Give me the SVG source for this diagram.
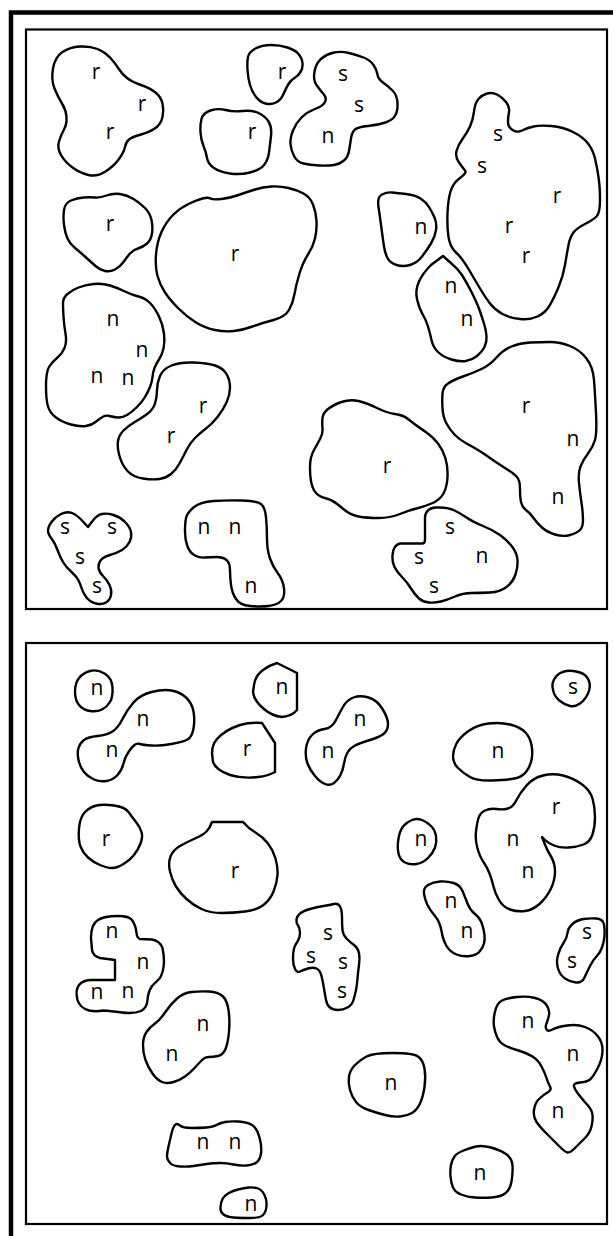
<svg xmlns="http://www.w3.org/2000/svg" width="613" height="1236" viewBox="0 0 613 1236">
<style>
.frame{fill:none;stroke:#000;stroke-width:4.5}
.panel{fill:none;stroke:#000;stroke-width:2.2}
.b{fill:#fff;stroke:#000;stroke-width:2.4;stroke-linejoin:round}
.t{font-family:"Open Sans","Noto Sans",sans-serif;font-size:21px;text-anchor:middle;fill:#000}
</style>
<rect width="613" height="1236" fill="#fff"/>
<rect class="frame" x="11" y="12.5" width="700" height="1300"/>
<rect class="panel" x="26" y="29.5" width="581" height="579.5"/>
<rect class="panel" x="26" y="643" width="581" height="581"/>
<g id="panel1">
<g id="blobA"><path class="b" d="M54.5,88.5 Q51,80 53,68.5 Q55,57 62.5,52 Q70,47 80,46.5 Q90,46 97.5,49 Q105,52 110,57.5 Q115,63 118.5,68.5 Q122,74 127,78 Q132,82 141,85 Q150,88 155.5,92.5 Q161,97 162.5,103.5 Q164,110 162.5,117 Q161,124 155.5,128 Q150,132 141,134.5 Q132,137 129,139.5 Q126,142 125,147 Q124,152 119,159 Q114,166 105.5,171.5 Q97,177 88.5,175 Q80,173 72.5,167.5 Q65,162 61,155 Q57,148 59,141.5 Q61,135 64,129.5 Q67,124 66.5,117 Q66,110 62,103.5 Q58,97 54.5,88.5 Z"/><text class="t" x="96" y="79">r</text><text class="t" x="142" y="111">r</text><text class="t" x="110" y="139">r</text></g>
<g id="blobB"><path class="b" d="M248,57 Q249,52 255.5,48.5 Q262,45 271,45 Q280,45 287.5,47.5 Q295,50 298.5,54 Q302,58 302.5,63 Q303,68 300.5,72 Q298,76 294.5,78 Q291,80 288.5,84 Q286,88 283.5,94 Q281,100 276,102.5 Q271,105 265.5,103.5 Q260,102 256,97 Q252,92 250,85 Q248,78 247.5,70 Q247,62 248,57 Z"/><text class="t" x="282" y="79">r</text></g>
<g id="blobC"><path class="b" d="M201.5,119 Q203,113 210.5,110.5 Q218,108 225.5,110 Q233,112 242.5,111 Q252,110 258.5,113 Q265,116 268.5,121.5 Q272,127 271,136 Q270,145 269,152.5 Q268,160 264,165 Q260,170 250,172.5 Q240,175 230,173.5 Q220,172 214,168 Q208,164 207,158 Q206,152 203.5,146 Q201,140 200.5,132.5 Q200,125 201.5,119 Z"/><text class="t" x="252" y="139">r</text></g>
<g id="blobD"><path class="b" d="M316.5,85 Q313,80 314.5,71.5 Q316,63 321.5,58.5 Q327,54 334,52.5 Q341,51 349,53 Q357,55 363.5,57.5 Q370,60 373.5,65 Q377,70 377.5,74.5 Q378,79 383,82.5 Q388,86 392.5,90.5 Q397,95 397.5,102.5 Q398,110 395.5,115 Q393,120 385.5,122.5 Q378,125 368,126 Q358,127 355,129.5 Q352,132 351,138.5 Q350,145 349,151 Q348,157 344,160.5 Q340,164 334,165 Q328,166 319,165.5 Q310,165 303.5,163.5 Q297,162 294,156 Q291,150 290.5,144 Q290,138 293,130.5 Q296,123 301.5,117.5 Q307,112 315,109 Q323,106 325,102 Q327,98 323.5,94 Q320,90 316.5,85 Z"/><text class="t" x="343" y="81">s</text><text class="t" x="359" y="112">s</text><text class="t" x="328" y="143">n</text></g>
<g id="blobE"><path class="b" d="M474,111.5 Q475,103 478.5,99 Q482,95 487,93.5 Q492,92 497,94.5 Q502,97 506,102 Q510,107 509,112 Q508,117 508,122 Q508,127 512.5,130 Q517,133 522,130.5 Q527,128 533.5,126.5 Q540,125 551.5,126 Q563,127 573,132 Q583,137 588,143.5 Q593,150 595,158.5 Q597,167 598.5,177 Q600,187 600,200 Q600,213 596.5,216.5 Q593,220 585,224 Q577,228 573.5,232.5 Q570,237 568.5,245 Q567,253 565,265 Q563,277 558,288.5 Q553,300 549,306.5 Q545,313 537.5,316.5 Q530,320 520,319 Q510,318 502.5,314 Q495,310 490,303.5 Q485,297 480,288.5 Q475,280 468.5,269 Q462,258 456,252.5 Q450,247 448.5,237 Q447,227 447.5,213.5 Q448,200 450.5,191.5 Q453,183 460,178 Q467,173 465,170.5 Q463,168 459,162.5 Q455,157 456.5,151 Q458,145 462.5,139 Q467,133 470,126.5 Q473,120 474,111.5 Z"/><text class="t" x="498" y="141">s</text><text class="t" x="482" y="173">s</text><text class="t" x="557" y="203">r</text><text class="t" x="509" y="233">r</text><text class="t" x="526" y="263">r</text></g>
<g id="blobF"><path class="b" d="M378.5,207 Q377,197 382,194.5 Q387,192 392,192.5 Q397,193 406,194 Q415,195 420.5,198.5 Q426,202 429,207 Q432,212 434.5,217.5 Q437,223 436,230 Q435,237 431,243.5 Q427,250 422,256.5 Q417,263 410,265 Q403,267 396.5,265 Q390,263 387.5,258 Q385,253 384,246.5 Q383,240 381.5,228.5 Q380,217 378.5,207 Z"/><text class="t" x="421" y="234">n</text></g>
<g id="blobG"><path class="b" d="M417,299 Q415,290 419,281.5 Q423,273 431,265 L443,256 L452,264 Q457,268 462,275 Q467,283 472,293 Q477,303 479.5,310 Q482,317 484,323.5 Q486,330 486.5,336 Q487,342 484.5,347 Q482,352 477,356 Q472,360 466,361 Q460,362 451.5,359.5 Q443,357 438,352 Q433,347 431.5,340 Q430,333 428,326.5 Q426,320 422.5,314 Q419,308 417,299 Z"/><text class="t" x="451" y="293">n</text><text class="t" x="467" y="326">n</text></g>
<g id="blobH"><path class="b" d="M157.5,276 Q155,267 156,254.5 Q157,242 161.5,232 Q166,222 173,215 Q180,208 188.5,204 Q197,200 202.5,198.5 Q208,197 210.5,198.5 Q213,200 221.5,199 Q230,198 238.5,195 Q247,192 255,189.5 Q263,187 271.5,186.5 Q280,186 288.5,188 Q297,190 303.5,193.5 Q310,197 313,204.5 Q316,212 316.5,221 Q317,230 315,238.5 Q313,247 308,254.5 Q303,262 299.5,273.5 Q296,285 294.5,294 Q293,303 289,310 Q285,317 273.5,320 Q262,323 252.5,326.5 Q243,330 234,331 Q225,332 215,330 Q205,328 196,322.5 Q187,317 178.5,308.5 Q170,300 165,292.5 Q160,285 157.5,276 Z"/><text class="t" x="235" y="261">r</text></g>
<g id="blobI"><path class="b" d="M64,210 Q65,203 71,200.5 Q77,198 83.5,197.5 Q90,197 95,197.5 Q100,198 106.5,195.5 Q113,193 120,194 Q127,195 133.5,199 Q140,203 145,208 Q150,213 151.5,220 Q153,227 152,233.5 Q151,240 147,243.5 Q143,247 138,248.5 Q133,250 130,253.5 Q127,257 123.5,262 Q120,267 115,269.5 Q110,272 105,271 Q100,270 95.5,266 Q91,262 85.5,257 Q80,252 75,248 Q70,244 67.5,238.5 Q65,233 64,225 Q63,217 64,210 Z"/><text class="t" x="110" y="231">r</text></g>
<g id="blobJ"><path class="b" d="M63,303 Q63,298 67.5,294 Q72,290 78.5,287.5 Q85,285 93.5,284 Q102,283 110,285.5 Q118,288 125,291.5 Q132,295 138.5,296.5 Q145,298 150,303 Q155,308 159,316.5 Q163,325 164,333.5 Q165,342 163.5,348.5 Q162,355 159,359.5 Q156,364 154.5,368 Q153,372 152.5,377 Q152,382 150,387 Q148,392 145,397 Q142,402 137,407 Q132,412 127,415 Q122,418 117.5,417.5 Q113,417 109.5,416 Q106,415 102.5,417 Q99,419 95.5,422 Q92,425 86,426 Q80,427 71,424.5 Q62,422 56,417.5 Q50,413 48,406.5 Q46,400 46,386 Q46,372 49,367 Q52,362 57,358 Q62,354 64.5,348 Q67,342 65.5,333.5 Q64,325 63.5,316.5 Q63,308 63,303 Z"/><text class="t" x="113" y="326">n</text><text class="t" x="142" y="357">n</text><text class="t" x="97" y="383">n</text><text class="t" x="128" y="385">n</text></g>
<g id="blobK"><path class="b" d="M157,390 Q157,383 160,376 Q163,369 171.5,365.5 Q180,362 193.5,362.5 Q207,363 215,365.5 Q223,368 226.5,374 Q230,380 230,387.5 Q230,395 226.5,402.5 Q223,410 217.5,417 Q212,424 206,428.5 Q200,433 195,438 Q190,443 186.5,450 Q183,457 179.5,463.5 Q176,470 171,474 Q166,478 159.5,479 Q153,480 143,478.5 Q133,477 127.5,471 Q122,465 119.5,456 Q117,447 118,441 Q119,435 123.5,430.5 Q128,426 134,422.5 Q140,419 146.5,414.5 Q153,410 155,403.5 Q157,397 157,390 Z"/><text class="t" x="203" y="413">r</text><text class="t" x="171" y="443">r</text></g>
<g id="blobS"><path class="b" d="M48,530.5 Q48,527 51.5,522 Q55,517 61,514 Q67,511 72,513 Q77,515 82.5,521 L88,527 L92.5,521 Q97,515 102,514 Q107,513 113.5,515 Q120,517 125,522 Q130,527 131,532 Q132,537 129.5,542 Q127,547 122,550 Q117,553 110,555 Q103,557 100.5,560.5 Q98,564 98.5,568 Q99,572 103,576 Q107,580 109.5,585 Q112,590 111,595 Q110,600 106,602.5 Q102,605 96,603.5 Q90,602 86.5,597.5 Q83,593 81.5,588 Q80,583 78,579.5 Q76,576 71,571.5 Q66,567 63,562 Q60,557 57.5,550 Q55,543 51.5,538.5 Q48,534 48,530.5 Z"/><text class="t" x="65" y="534">s</text><text class="t" x="112" y="534">s</text><text class="t" x="80" y="564">s</text><text class="t" x="97" y="593">s</text></g>
<g id="blobL"><path class="b" d="M186,518 Q187,513 193.5,507.5 Q200,502 213.5,501 Q227,500 242,500.5 Q257,501 261,504 Q265,507 266,517 Q267,527 267,538.5 Q267,550 270,558.5 Q273,567 278,573.5 Q283,580 284,588.5 Q285,597 281,601 Q277,605 268.5,606 Q260,607 250,606 Q240,605 236,599 Q232,593 231,585 Q230,577 230,570 Q230,563 226.5,560 Q223,557 216.5,557 Q210,557 205,557.5 Q200,558 195,555.5 Q190,553 187.5,546.5 Q185,540 185,531.5 Q185,523 186,518 Z"/><text class="t" x="204" y="534">n</text><text class="t" x="235" y="534">n</text><text class="t" x="251" y="593">n</text></g>
<g id="blobM"><path class="b" d="M322.5,418 Q323,413 328,409 Q333,405 341.5,402 Q350,399 358.5,401 Q367,403 377,408 Q387,413 395,414 Q403,415 408,419 Q413,423 416.5,425.5 Q420,428 426.5,432.5 Q433,437 438,443.5 Q443,450 445.5,458.5 Q448,467 447.5,477 Q447,487 443.5,493.5 Q440,500 431.5,503.5 Q423,507 416.5,508.5 Q410,510 400,514 Q390,518 378.5,518 Q367,518 358.5,516.5 Q350,515 341.5,507.5 Q333,500 326.5,498.5 Q320,497 316.5,493.5 Q313,490 311.5,483.5 Q310,477 310,467 Q310,457 314,450 Q318,443 320.5,438 Q323,433 322.5,428 Q322,423 322.5,418 Z"/><text class="t" x="387" y="473">r</text></g>
<g id="blobN"><path class="b" d="M442.5,393.5 Q443,387 448,383.5 Q453,380 463,376.5 Q473,373 481.5,369 Q490,365 496.5,357.5 Q503,350 511.5,346.5 Q520,343 530,342.5 Q540,342 550,342 Q560,342 570,346 Q580,350 586.5,358.5 Q593,367 594,380 Q595,393 596,413 Q597,433 595,440 Q593,447 588,453.5 Q583,460 580.5,466.5 Q578,473 579,483 Q580,493 581.5,503 Q583,513 583,520 Q583,527 580,530 Q577,533 570,535 Q563,537 555,534.5 Q547,532 542,527.5 Q537,523 533.5,518 Q530,513 526,510 Q522,507 521,502 Q520,497 520,488.5 Q520,480 516.5,476.5 Q513,473 505,468 Q497,463 490,458 Q483,453 478,450 Q473,447 466.5,443.5 Q460,440 455,435 Q450,430 446.5,423.5 Q443,417 442.5,408.5 Q442,400 442.5,393.5 Z"/><text class="t" x="526" y="413">r</text><text class="t" x="573" y="446">n</text><text class="t" x="558" y="504">n</text></g>
<g id="blobO"><path class="b" d="M425,535 L425,517 Q426,508 436,507.5 Q447,507 453.5,510 Q460,513 466.5,517.5 Q473,522 483,526 Q493,530 500,535 Q507,540 512,546.5 Q517,553 517.5,560 Q518,567 515.5,574.5 Q513,582 506.5,587 Q500,592 490,592.5 Q480,593 471.5,593 Q463,593 455,596.5 Q447,600 441,601.5 Q435,603 429,602.5 Q423,602 419,598.5 Q415,595 411,588.5 Q407,582 402,577 Q397,572 394.5,567 Q392,562 392.5,555.5 Q393,545 400,543.5 L422,543.5 Q425,543.5 425,540 Z"/><text class="t" x="450" y="534">s</text><text class="t" x="419" y="564">s</text><text class="t" x="482" y="563">n</text><text class="t" x="434" y="593">s</text></g>
</g>
<g id="panel2">
<g id="p1"><path class="b" d="M75,691.5 Q75,683 79,678 Q83,673 90,671 Q97,669 104.5,673.5 Q112,678 112.5,687.5 Q113,697 110,702 Q107,707 102,709.5 Q97,712 90,711 Q83,710 79,705 Q75,700 75,691.5 Z"/><text class="t" x="97" y="695">n</text></g>
<g id="p2"><path class="b" d="M78.5,748 Q80,743 84,740 Q88,737 97.5,736 Q107,735 112.5,731.5 Q118,728 122.5,719 Q127,710 133.5,702.5 Q140,695 151.5,692 Q163,689 171.5,690.5 Q180,692 186,697.5 Q192,703 193.5,711.5 Q195,720 193.5,728.5 Q192,737 187.5,739.5 Q183,742 171.5,744 Q160,746 151.5,745.5 Q143,745 140,744 Q137,743 134.5,745 Q132,747 128.5,752 Q125,757 123.5,763.5 Q122,770 117.5,775 Q113,780 106.5,781 Q100,782 94,779.5 Q88,777 84,772 Q80,767 78.5,760 Q77,753 78.5,748 Z"/><text class="t" x="143" y="726">n</text><text class="t" x="112" y="757">n</text></g>
<g id="p3"><path class="b" d="M212,753 Q212,745 217,739 Q225,730 240,725 Q250,722 262,723 L275,743 L275,772 Q268,776 258,777 Q243,779 230,775 Q216,770 213,762 Z"/><text class="t" x="247" y="756">r</text></g>
<g id="p4"><path class="b" d="M254,685 Q255,676 263,670 Q270,665 277,663 L297,673 L297,710 Q292,716 282,717 Q272,716 264,709 Q254,701 253,692 Z"/><text class="t" x="282" y="694">n</text></g>
<g id="p5"><path class="b" d="M306,748.5 Q307,740 312,735 Q317,730 324.5,729 Q332,728 336,720 Q340,712 343.5,706 Q347,700 353.5,697.5 Q360,695 368.5,697.5 Q377,700 382.5,709 Q388,718 388,724 Q388,730 384,733.5 Q380,737 370,740 Q360,743 355,745.5 Q350,748 347.5,752.5 Q345,757 344,763.5 Q343,770 340.5,775 Q338,780 334,783 Q330,786 325,784 Q320,782 315,776 Q310,770 307.5,763.5 Q305,757 306,748.5 Z"/><text class="t" x="360" y="726">n</text><text class="t" x="328" y="758">n</text></g>
<g id="p6"><path class="b" d="M552.5,683.5 Q553,680 556.5,676 Q560,672 566.5,671 Q573,670 580,672.5 Q587,675 589,681 Q591,687 588,693.5 Q585,700 580,703.5 Q575,707 570,706 Q565,705 560,701 Q555,697 553.5,692 Q552,687 552.5,683.5 Z"/><text class="t" x="573" y="694">s</text></g>
<g id="p7"><path class="b" d="M453,756.5 Q453,750 456.5,743.5 Q460,737 468.5,731 Q477,725 488.5,723.5 Q500,722 510,724.5 Q520,727 525,732 Q530,737 531.5,745 Q533,753 531.5,760 Q530,767 526,772 Q522,777 514.5,778.5 Q507,780 492,780.5 Q477,781 470,777 Q463,773 458,768 Q453,763 453,756.5 Z"/><text class="t" x="498" y="758">n</text></g>
<g id="p8"><path class="b" d="M398.5,838.5 Q400,830 403.5,826 Q407,822 412,820 Q417,818 422,820 Q427,822 431,826 Q435,830 436,836 Q437,842 435,847.5 Q433,853 428,858 Q423,863 416.5,864 Q410,865 405,862.5 Q400,860 398.5,853.5 Q397,847 398.5,838.5 Z"/><text class="t" x="421" y="846">n</text></g>
<g id="p9"><path class="b" d="M478.5,818 Q480,813 485,810.5 Q490,808 496.5,809 Q503,810 508,808.5 Q513,807 516.5,800 Q520,793 526.5,785.5 Q533,778 543,775.5 Q553,773 563,775.5 Q573,778 581.5,784 Q590,790 592.5,798.5 Q595,807 595,817 Q595,827 592.5,834.5 Q590,842 583.5,844.5 Q577,847 568.5,847.5 Q560,848 554,845.5 Q548,843 545,840 L542,837 L544.5,843.5 Q547,850 551,856.5 Q555,863 555,871.5 Q555,880 551,888.5 Q547,897 540,903.5 Q533,910 525,911 Q517,912 510,909.5 Q503,907 499,900 Q495,893 493.5,886.5 Q492,880 489.5,873.5 Q487,867 483.5,862 Q480,857 477.5,848.5 Q475,840 476,831.5 Q477,823 478.5,818 Z"/><text class="t" x="556" y="814">r</text><text class="t" x="513" y="846">n</text><text class="t" x="528" y="878">n</text></g>
<g id="p10"><path class="b" d="M79,828.5 Q80,817 85,812 Q90,807 96.5,805.5 Q103,804 114,805.5 Q125,807 128.5,812 Q132,817 136,822 Q140,827 141.5,832 Q143,837 140.5,843.5 Q138,850 134,855 Q130,860 123.5,864 Q117,868 112,868 Q107,868 100,865 Q93,862 88,857.5 Q83,853 80.5,846.5 Q78,840 79,828.5 Z"/><text class="t" x="106" y="846">r</text></g>
<g id="p11"><path class="b" d="M243,822 Q248,828 255.5,832.5 Q263,837 268,843.5 Q273,850 275.5,858.5 Q278,867 277.5,875 Q277,883 273.5,891.5 Q270,900 263.5,905 Q257,910 245,911.5 Q233,913 221.5,913 Q210,913 201.5,909 Q193,905 186.5,899 Q180,893 176,886.5 Q172,880 170,871.5 Q168,863 170.5,856.5 Q173,850 180,846 Q187,842 195,838.5 Q203,835 206.5,831.5 Q210,828 212,822 Z"/><text class="t" x="235" y="878">r</text></g>
<g id="p12"><path class="b" d="M91,938 Q91,924 98,920 Q104,916 118,916 Q129,916 132,920 Q136,926 136.5,933 Q137,938 140,939 L152,939.5 Q160,941 162.5,948 Q164,955 164,962 Q163.5,972 160,978 Q155,983 152,986 Q148,992 147.5,1000 Q147,1008 141,1011 Q134,1014 122,1012.5 Q110,1011 103,1010.5 Q96,1012 89,1010.5 Q80,1008 77.5,1000 Q75,990 79,985 Q83,980 92,980 L115,980 L115,960 L100,958 Q93,956 92,950 Z"/><text class="t" x="112" y="938">n</text><text class="t" x="143" y="969">n</text><text class="t" x="97" y="999">n</text><text class="t" x="128" y="998">n</text></g>
<g id="p13"><path class="b" d="M143,1045 Q143,1037 146.5,1032 Q150,1027 155,1023.5 Q160,1020 165,1012.5 Q170,1005 176.5,999 Q183,993 191.5,992 Q200,991 209,991.5 Q218,992 222.5,996 Q227,1000 228.5,1010 Q230,1020 229,1031.5 Q228,1043 225.5,1049 Q223,1055 218,1056 Q213,1057 209,1057 Q205,1057 202.5,1059.5 Q200,1062 195,1067.5 Q190,1073 185,1076.5 Q180,1080 173.5,1082 Q167,1084 162,1082 Q157,1080 152.5,1073.5 Q148,1067 145.5,1060 Q143,1053 143,1045 Z"/><text class="t" x="203" y="1031">n</text><text class="t" x="172" y="1061">n</text></g>
<g id="p14"><path class="b" d="M296.5,919.5 Q297,916 300,913.5 Q303,911 310,909 Q317,907 323.5,906 Q330,905 334,904 Q338,903 340,906.5 Q342,910 342,917.5 Q342,925 342.5,930 Q343,935 346.5,938.5 Q350,942 354,945 Q358,948 359,953 Q360,958 359,965 Q358,972 357.5,978.5 Q357,985 356,990 Q355,995 353.5,1000 Q352,1005 347.5,1007.5 Q343,1010 338,1010 Q333,1010 330,1007.5 Q327,1005 326,1000 Q325,995 324,988.5 Q323,982 321.5,976 Q320,970 316.5,968.5 Q313,967 308,968.5 Q303,970 300,971.5 Q297,973 295,969 Q293,965 293,958.5 Q293,952 294,948.5 Q295,945 297.5,941.5 Q300,938 300,933 Q300,928 298,925.5 Q296,923 296.5,919.5 Z"/><text class="t" x="328" y="940">s</text><text class="t" x="311" y="963">s</text><text class="t" x="343" y="969">s</text><text class="t" x="342" y="998">s</text></g>
<g id="p15"><path class="b" d="M424,894 Q423,888 428,885 Q433,882 440,881.5 Q447,881 453.5,883 Q460,885 462.5,891 Q465,897 467.5,903.5 Q470,910 475,914 Q480,918 482,924 Q484,930 484.5,935 Q485,940 484,943.5 Q483,947 480,951 Q477,955 470,956 Q463,957 456.5,954.5 Q450,952 446.5,946 Q443,940 441.5,931 Q440,922 435,916 Q430,910 427.5,905 Q425,900 424,894 Z"/><text class="t" x="451" y="908">n</text><text class="t" x="467" y="938">n</text></g>
<g id="p16"><path class="b" d="M567.5,933 Q568,928 572.5,924 Q577,920 583.5,919 Q590,918 596.5,918.5 Q603,919 604,924.5 Q605,930 604.5,936 Q604,942 602,947.5 Q600,953 596.5,956.5 Q593,960 590,966 Q587,972 584.5,977.5 Q582,983 576,982.5 Q570,982 565,978.5 Q560,975 558,968.5 Q556,962 558,955 Q560,948 563.5,943 Q567,938 567.5,933 Z"/><text class="t" x="587" y="939">s</text><text class="t" x="572" y="968">s</text></g>
<g id="p17"><path class="b" d="M495,1011.5 Q497,1003 502,1000.5 Q507,998 517,997 Q527,996 535,998 Q543,1000 546.5,1005 Q550,1010 549,1015 Q548,1020 546.5,1023.5 Q545,1027 546.5,1029.5 Q548,1032 552.5,1029.5 Q557,1027 567,1025.5 Q577,1024 585,1027 Q593,1030 598,1036.5 Q603,1043 602.5,1051.5 Q602,1060 597.5,1068.5 Q593,1077 590,1079.5 Q587,1082 580,1082.5 Q573,1083 574,1086.5 Q575,1090 579,1095 Q583,1100 587.5,1105 Q592,1110 592.5,1115 Q593,1120 591.5,1126.5 Q590,1133 585,1138 Q580,1143 575,1148 Q570,1153 567.5,1152.5 Q565,1152 559,1146 Q553,1140 546.5,1133.5 Q540,1127 536.5,1122 Q533,1117 534,1110 Q535,1103 539,1099 Q543,1095 547.5,1092.5 Q552,1090 550,1086.5 Q548,1083 546.5,1078 Q545,1073 541.5,1066.5 Q538,1060 532.5,1056.5 Q527,1053 518.5,1050.5 Q510,1048 505,1045.5 Q500,1043 497.5,1038 Q495,1033 494,1026.5 Q493,1020 495,1011.5 Z"/><text class="t" x="528" y="1028">n</text><text class="t" x="573" y="1061">n</text><text class="t" x="558" y="1118">n</text></g>
<g id="p18"><path class="b" d="M349,1076.5 Q350,1070 355,1065 Q360,1060 366.5,1056.5 Q373,1053 393,1053 Q413,1053 418,1056.5 Q423,1060 424.5,1068.5 Q426,1077 424.5,1087 Q423,1097 420,1103.5 Q417,1110 412,1113 Q407,1116 400,1116.5 Q393,1117 385,1115 Q377,1113 368.5,1110 Q360,1107 356,1102 Q352,1097 350,1090 Q348,1083 349,1076.5 Z"/><text class="t" x="391" y="1090">n</text></g>
<g id="p19"><path class="b" d="M451,1165 Q452,1160 454.5,1156.5 Q457,1153 463.5,1150.5 Q470,1148 476,1146.5 Q482,1145 491,1147.5 Q500,1150 506,1154 Q512,1158 512.5,1165.5 Q513,1173 511.5,1181.5 Q510,1190 505,1193.5 Q500,1197 491.5,1197.5 Q483,1198 475,1197.5 Q467,1197 461,1194.5 Q455,1192 453,1187.5 Q451,1183 450.5,1176.5 Q450,1170 451,1165 Z"/><text class="t" x="480" y="1180">n</text></g>
<g id="p20"><path class="b" d="M167,1156.5 Q167,1153 168.5,1146.5 Q170,1140 171.5,1133.5 Q173,1127 175,1125 Q177,1123 180,1125.5 Q183,1128 191.5,1128 Q200,1128 206.5,1127.5 Q213,1127 216.5,1125 Q220,1123 225,1122 Q230,1121 238.5,1121.5 Q247,1122 252,1125 Q257,1128 259.5,1137.5 Q262,1147 261,1153.5 Q260,1160 256.5,1162.5 Q253,1165 246.5,1165.5 Q240,1166 233.5,1164.5 Q227,1163 220,1163 Q213,1163 206.5,1164 Q200,1165 193.5,1166 Q187,1167 180,1166.5 Q173,1166 170,1163 Q167,1160 167,1156.5 Z"/><text class="t" x="203" y="1149">n</text><text class="t" x="235" y="1149">n</text></g>
<g id="p21"><path class="b" d="M220.5,1207 Q221,1202 222.5,1199 Q224,1196 228,1193.5 Q232,1191 238,1189.5 Q244,1188 249,1187.5 Q254,1187 258,1188.5 Q262,1190 264.5,1195 Q267,1200 266.5,1206 Q266,1212 263,1215 Q260,1218 250,1218 Q240,1218 233.5,1217.5 Q227,1217 223.5,1214.5 Q220,1212 220.5,1207 Z"/><text class="t" x="251" y="1211">n</text></g>
</g>
<g id="connectors"/>
</svg>
